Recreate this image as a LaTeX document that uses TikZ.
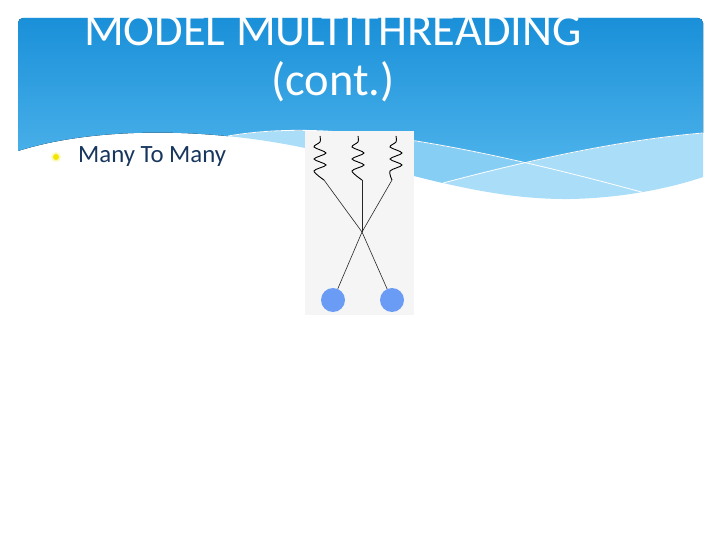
\documentclass[tikz,border=0pt]{standalone}
\usepackage{fontspec}
\setmainfont{Carlito}
\definecolor{headtop}{HTML}{1A90D9}
\definecolor{headbot}{HTML}{58BAEE}
\definecolor{bandmid}{HTML}{86CEF4}
\definecolor{bandlow}{HTML}{AADDF8}
\definecolor{navy}{HTML}{17365D}
\definecolor{bulletyellow}{HTML}{F2E600}
\definecolor{procblue}{HTML}{6A9CF6}
\definecolor{boxgray}{HTML}{F5F5F5}
\tikzset{
  wire/.style={line width=0.6pt, black!85},
  proc/.style={circle, fill=procblue, minimum size=24pt, inner sep=0pt}
}
\begin{document}
\begin{tikzpicture}[x=1pt,y=-1pt]
        \useasboundingbox (0,0) rectangle (720,540);
        \begin{scope}
            \clip[rounded corners=5pt] (18,18) rectangle (703,260);
            \clip (18,0) -- (18,151) .. controls (90,128) and (200,126) .. (305,148)
                .. controls (400,170) and (480,200) .. (570,199)
                .. controls (630,198) and (680,185) .. (703,177) -- (703,0) -- cycle;
            \fill[bandlow] (0,0) rectangle (720,260);
            \fill[bandmid] (310,0) -- (310,162) -- (443,183) .. controls (530,160) and (620,140) .. (703,133) -- (720,133) -- (720,0) -- cycle;
            \begin{scope}
                \clip (0,0) -- (0,170) -- (160,170) -- (228,136) .. controls (300,124) and (400,126) .. (645,193) -- (720,230) -- (720,0) -- cycle;
                \clip (0,0) -- (0,260) -- (300,260) -- (443,183) .. controls (530,160) and (620,140) .. (703,133) -- (720,131) -- (720,0) -- cycle;
                \fill[top color=headtop, bottom color=headbot] (0,18) rectangle (720,200);
            \end{scope}
            \draw[white, line width=0.8pt] (228,136) .. controls (300,124) and (400,126) .. (645,193);
            \draw[white, line width=0.8pt] (443,183) .. controls (530,160) and (620,140) .. (703,133);
        \end{scope}
        \node[white, anchor=base, font=\fontsize{46.5}{50}\selectfont] (title) at (333,46) {MODEL MULTITHREADING};
        \node[white, anchor=base, font=\fontsize{46.5}{50}\selectfont] (cont) at (333,96) {(cont.)};
        \fill[bulletyellow!25] (56,157) circle (5);
        \fill[bulletyellow] (56,157) circle (3);
        \node[navy, anchor=base west, inner sep=0pt, font=\fontsize{24.8}{28}\selectfont] (item) at (78,163) {Many To Many};
        \fill[boxgray] (305,131) rectangle (414,315);
        \foreach \x/\n/\e in {320/a/4,358/b/4,396/c/-4}{
            \draw[line width=0.9pt] plot[smooth] coordinates {(\x,136) (\x,142) (\x-6,147) (\x+6,153) (\x-6,159) (\x+6,165) (\x-6,171) (\x+\e,180)};
            \coordinate (t\n) at (\x+\e,180);
        }
        \coordinate (cross) at (362,232);
        \node[proc] (p1) at (333,300) {};
        \node[proc] (p2) at (392,300) {};
        \draw[wire] (ta) -- (cross);
        \draw[wire] (tb) -- (cross);
        \draw[wire] (tc) -- (cross);
        \draw[wire] (cross) -- (p1);
        \draw[wire] (cross) -- (p2);
\end{tikzpicture}
\end{document}
